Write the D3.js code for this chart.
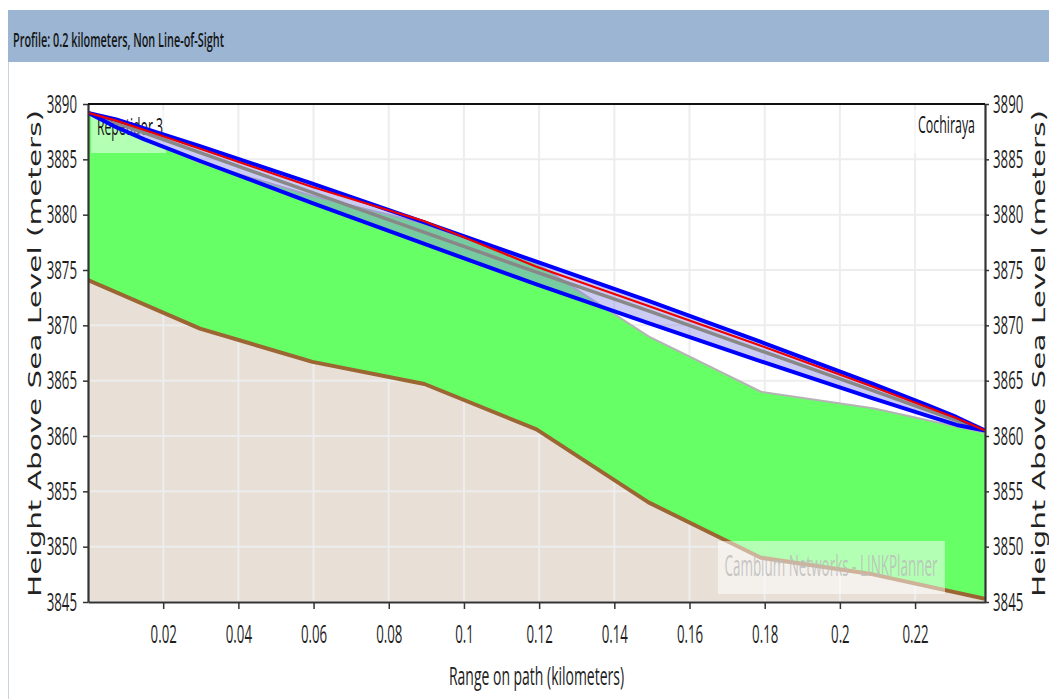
<!DOCTYPE html>
<html><head><meta charset="utf-8">
<script src="https://cdn.jsdelivr.net/npm/d3@7"></script>
<style>body{margin:0;background:#fff;} svg{display:block;}</style>
</head><body>
<svg id="chart" width="1049" height="699"></svg>
<script>
// ---------- data ----------
const distKm        = [0, 0.0298, 0.0597, 0.0895, 0.1193, 0.1491, 0.1790, 0.2088, 0.2386];
const terrainM      = [3874.1, 3869.7, 3866.7, 3864.7, 3860.6, 3854.0, 3849.0, 3847.5, 3845.3];
const clutterTopM   = [3889.1, 3884.7, 3881.7, 3879.2, 3875.6, 3869.0, 3864.0, 3862.5, 3860.3];
const bandKm        = [0, 0.0075, 0.015, 0.0298, 0.0597, 0.0895, 0.1193, 0.1491, 0.1790, 0.2088, 0.2236, 0.2311, 0.2386];
const losM          = [3889.2, 3888.3, 3887.4, 3885.6, 3882.0, 3878.4, 3874.8, 3871.3, 3867.7, 3864.1, 3862.3, 3861.4, 3860.5];
const fresnelUpperM = [3889.2, 3888.6, 3887.8, 3886.2, 3882.8, 3879.3, 3875.75, 3872.2, 3868.5, 3864.7, 3862.75, 3861.7, 3860.5];
const fresnelLowerM = [3889.2, 3887.9, 3886.8, 3884.85, 3881.05, 3877.35, 3873.7, 3870.2, 3866.75, 3863.4, 3861.8, 3861.0, 3860.5];
const redPathM      = [3889.2, 3888.5, 3887.65, 3885.95, 3882.5, 3879.4, 3875.3, 3871.75, 3868.15, 3864.45, 3862.55, 3861.6, 3860.5];
const xTicks = [0.02, 0.04, 0.06, 0.08, 0.1, 0.12, 0.14, 0.16, 0.18, 0.2, 0.22];
const yTicks = [3845, 3850, 3855, 3860, 3865, 3870, 3875, 3880, 3885, 3890];
const xDomain = [0, 0.2386];
const yDomain = [3845, 3890];
const titleText = "Profile: 0.2 kilometers, Non Line-of-Sight";
const xTitle = "Range on path (kilometers)";
const yTitle = "Height Above Sea Level (meters)";
const siteLeft = "Repetidor 3";
const siteRight = "Cochiraya";
const watermark = "Cambium Networks - LINKPlanner";

// ---------- layout ----------
const plot = {left: 88, right: 985, top: 104, bottom: 602};
const x = d3.scaleLinear().domain(xDomain).range([plot.left, plot.right]);
const y = d3.scaleLinear().domain(yDomain).range([plot.bottom, plot.top]);
const svg = d3.select("#chart");
const HFONT = "'Open Sans', 'Liberation Sans', sans-serif";

function squeeze(sel, ratio) {
  sel.each(function () {
    const L = this.getComputedTextLength();
    this.setAttribute("textLength", (L * ratio).toFixed(1));
    this.setAttribute("lengthAdjust", "spacingAndGlyphs");
  });
}
function fitWidth(sel, w) { sel.attr("textLength", w).attr("lengthAdjust", "spacingAndGlyphs"); }

// title bar
svg.append("rect").attr("x", 8).attr("y", 10).attr("width", 1041).attr("height", 52).attr("fill", "#9bb5d3");
svg.append("line").attr("x1", 8.5).attr("x2", 8.5).attr("y1", 62).attr("y2", 699).attr("stroke", "#c9d3de").attr("stroke-width", 1);
svg.append("text").attr("x", 13).attr("y", 47).attr("font-family", HFONT).attr("font-size", 19.5).attr("font-weight", 600)
  .attr("fill", "#151515").text(titleText).call(fitWidth, 211);

// clip
svg.append("clipPath").attr("id", "clip").append("rect")
  .attr("x", plot.left).attr("y", plot.top).attr("width", plot.right - plot.left).attr("height", plot.bottom - plot.top);
const g = svg.append("g").attr("clip-path", "url(#clip)");

const pts = (arr) => distKm.map((d, i) => [d, arr[i]]);
const bpts = (arr) => bandKm.map((d, i) => [d, arr[i]]);
const line = d3.line().x(d => x(d[0])).y(d => y(d[1]));

// terrain fill
g.append("path").datum(pts(terrainM))
  .attr("d", d3.area().x(d => x(d[0])).y0(y(yDomain[0])).y1(d => y(d[1])))
  .attr("fill", "#e8e0d7");

// grid
g.selectAll(".vg").data(xTicks).join("line").attr("class", "vg")
  .attr("x1", d => x(d)).attr("x2", d => x(d)).attr("y1", plot.top).attr("y2", plot.bottom)
  .attr("stroke", "#ededed").attr("stroke-width", 2);
g.selectAll(".hg").data(yTicks).join("line").attr("class", "hg")
  .attr("x1", plot.left).attr("x2", plot.right).attr("y1", d => y(d)).attr("y2", d => y(d))
  .attr("stroke", "#ededed").attr("stroke-width", 2);

// clutter (green)
g.append("path").datum(distKm.map((d, i) => [d, terrainM[i], clutterTopM[i]]))
  .attr("d", d3.area().x(d => x(d[0])).y0(d => y(d[1])).y1(d => y(d[2])))
  .attr("fill", "#66ff66");
g.append("path").datum(pts(clutterTopM)).attr("d", line)
  .attr("fill", "none").attr("stroke", "#b4b4b4").attr("stroke-width", 2);

// terrain line
g.append("path").datum(pts(terrainM)).attr("d", line)
  .attr("fill", "none").attr("stroke", "#9c6633").attr("stroke-width", 4).attr("stroke-linejoin", "round");

// site labels (under the path lines)
svg.append("rect").attr("x", 91).attr("y", 110).attr("width", 75).attr("height", 43).attr("fill", "rgba(255,255,255,0.5)");
svg.append("rect").attr("x", 912).attr("y", 110).attr("width", 70).attr("height", 43).attr("fill", "rgba(255,255,255,0.5)");
svg.append("text").attr("x", 97).attr("y", 135).attr("font-family", HFONT).attr("font-size", 23)
  .attr("fill", "#111").text(siteLeft).call(fitWidth, 66);
svg.append("text").attr("x", 918).attr("y", 133).attr("font-family", HFONT).attr("font-size", 24)
  .attr("fill", "#111").text(siteRight).call(fitWidth, 57);

// fresnel band and path lines
const g2 = svg.append("g").attr("clip-path", "url(#clip)");
g2.append("path").datum(bandKm.map((d, i) => [d, fresnelLowerM[i], fresnelUpperM[i]]))
  .attr("d", d3.area().x(d => x(d[0])).y0(d => y(d[1])).y1(d => y(d[2])))
  .attr("fill", "rgba(140,140,230,0.45)");
g2.append("path").datum(bpts(losM)).attr("d", line)
  .attr("fill", "none").attr("stroke", "#888").attr("stroke-width", 3.5);
[fresnelUpperM, fresnelLowerM].forEach(arr => {
  g2.append("path").datum(bpts(arr)).attr("d", line)
    .attr("fill", "none").attr("stroke", "#0000ff").attr("stroke-width", 4).attr("stroke-linejoin", "round");
});
g2.append("path").datum(bpts(redPathM)).attr("d", line)
  .attr("fill", "none").attr("stroke", "#ee0000").attr("stroke-width", 2.2);

// watermark
svg.append("rect").attr("x", 718).attr("y", 541).attr("width", 227).attr("height", 53).attr("fill", "rgba(255,255,255,0.5)");
svg.append("text").attr("x", 831).attr("y", 576).attr("text-anchor", "middle").attr("font-family", HFONT)
  .attr("font-size", 29).attr("fill", "#bcbcbc").attr("fill-opacity", 0.85).text(watermark).call(fitWidth, 213);

// axes
const axL = svg.append("g").attr("transform", `translate(${plot.left},0)`)
  .call(d3.axisLeft(y).tickValues(yTicks).tickSize(5).tickSizeOuter(0).tickPadding(6).tickFormat(d3.format("d")));
const axR = svg.append("g").attr("transform", `translate(${plot.right},0)`)
  .call(d3.axisRight(y).tickValues(yTicks).tickSize(4).tickSizeOuter(0).tickPadding(4).tickFormat(d3.format("d")));
const axB = svg.append("g").attr("transform", `translate(0,${plot.bottom})`)
  .call(d3.axisBottom(x).tickValues(xTicks).tickSize(7).tickSizeOuter(0).tickPadding(16).tickFormat(d => String(+d.toFixed(2))));
[axL, axR, axB].forEach(a => {
  a.select(".domain").attr("stroke", "#333").attr("stroke-width", 2.2);
  a.selectAll(".tick line").attr("stroke", "#333").attr("stroke-width", 1.5);
  a.selectAll(".tick text").attr("font-family", HFONT).attr("font-size", 25).attr("font-weight", 500).attr("fill", "#1e1e1e")
    .call(squeeze, 0.53);
});
svg.append("line").attr("x1", plot.left).attr("x2", plot.right).attr("y1", plot.top).attr("y2", plot.top)
  .attr("stroke", "#111").attr("stroke-width", 2);

// axis titles
svg.append("text").attr("x", (plot.left + plot.right) / 2).attr("y", 685).attr("text-anchor", "middle")
  .attr("font-family", HFONT).attr("font-size", 25).attr("font-weight", 500).attr("fill", "#222").text(xTitle).call(fitWidth, 175);
[[41, 353.5], [1045, 353.5]].forEach(([cx, cy]) => {
  svg.append("text").attr("transform", `translate(${cx},${cy}) rotate(-90)`).attr("text-anchor", "middle")
    .attr("font-family", "'DejaVu Sans', sans-serif").attr("font-size", 18).attr("fill", "#222")
    .text(yTitle).call(fitWidth, 487);
});
</script>
</body></html>
